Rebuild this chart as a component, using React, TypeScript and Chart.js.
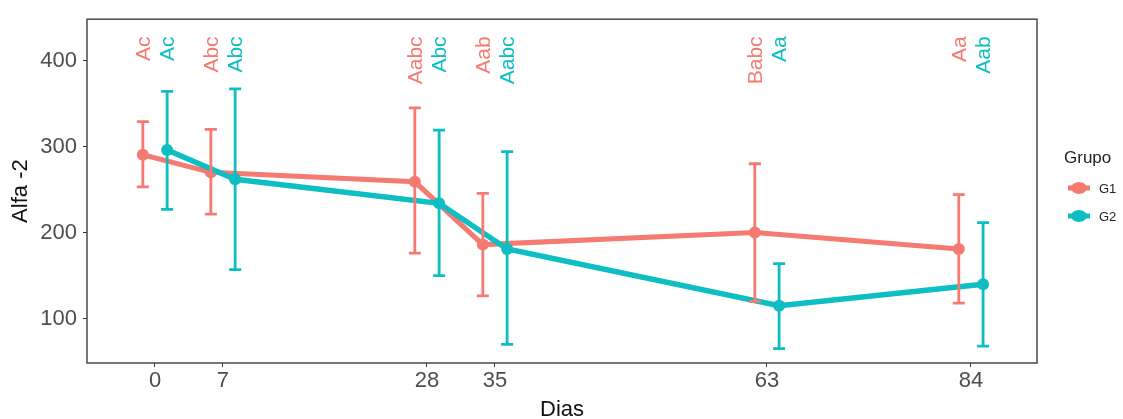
import React, { useEffect, useRef } from "react";
import { Chart, registerables } from "chart.js";

Chart.register(...registerables);

const DAYS = [0, 7, 28, 35, 63, 84];
const X_TICKS = [0, 7, 28, 35, 63, 84];
const Y_TICKS = [100, 200, 300, 400];
const DODGE = 1.25;

const G1_MEAN = [290.5, 270, 259, 186, 200, 181];
const G1_UPPER = [329, 320, 345, 245.5, 280, 244];
const G1_LOWER = [253, 221.5, 176, 126.5, 120, 118];
const G1_LABELS = ["Ac", "Abc", "Aabc", "Aab", "Babc", "Aa"];

const G2_MEAN = [296, 262, 234, 181, 115, 140];
const G2_UPPER = [364, 367, 319, 294, 164, 211.5];
const G2_LOWER = [227, 157, 150, 70, 65, 68];
const G2_LABELS = ["Ac", "Abc", "Abc", "Aabc", "Aa", "Aab"];

const GROUPS = ["G1", "G2"];
const COLORS = ["#F47A72", "#0DBEC2"];
const LABEL_Y = 428;

const FONT = "'Liberation Sans', Arial, Helvetica, sans-serif";

const series = [
  { mean: G1_MEAN, upper: G1_UPPER, lower: G1_LOWER, labels: G1_LABELS, offset: -DODGE, width: 5 },
  { mean: G2_MEAN, upper: G2_UPPER, lower: G2_LOWER, labels: G2_LABELS, offset: DODGE, width: 5.5 },
];

const overlayPlugin = {
  id: "overlay",
  afterDatasetsDraw(chart: any) {
    const { ctx, chartArea, scales } = chart;
    const xs = scales.x;
    const ys = scales.y;
    ctx.save();
    series.forEach((s, gi) => {
      ctx.strokeStyle = COLORS[gi];
      ctx.lineWidth = 2.8;
      DAYS.forEach((d, i) => {
        const px = xs.getPixelForValue(d + s.offset);
        const pt = ys.getPixelForValue(s.upper[i]);
        const pb = ys.getPixelForValue(s.lower[i]);
        const cap = 6;
        ctx.beginPath();
        ctx.moveTo(px, pt);
        ctx.lineTo(px, pb);
        ctx.moveTo(px - cap, pt);
        ctx.lineTo(px + cap, pt);
        ctx.moveTo(px - cap, pb);
        ctx.lineTo(px + cap, pb);
        ctx.stroke();
      });
    });
    series.forEach((s, gi) => {
      ctx.fillStyle = COLORS[gi];
      ctx.font = `21px ${FONT}`;
      ctx.textAlign = "right";
      ctx.textBaseline = "middle";
      DAYS.forEach((d, i) => {
        const px = xs.getPixelForValue(d + s.offset);
        const py = ys.getPixelForValue(LABEL_Y);
        ctx.save();
        ctx.translate(px + 1, py);
        ctx.rotate(-Math.PI / 2);
        ctx.fillText(s.labels[i], 0, 0);
        ctx.restore();
      });
    });
    ctx.strokeStyle = "#4a4a4a";
    ctx.lineWidth = 1.5;
    ctx.strokeRect(chartArea.left, chartArea.top, chartArea.right - chartArea.left, chartArea.bottom - chartArea.top);
    ctx.restore();
  },
  afterDraw(chart: any) {
    const { ctx, chartArea } = chart;
    ctx.save();
    ctx.fillStyle = "#111";
    ctx.font = `22px ${FONT}`;
    ctx.textAlign = "center";
    ctx.textBaseline = "middle";
    ctx.fillText("Dias", (chartArea.left + chartArea.right) / 2, 410);
    ctx.save();
    ctx.translate(21, (chartArea.top + chartArea.bottom) / 2);
    ctx.rotate(-Math.PI / 2);
    ctx.fillText("Alfa -2", 0, 0);
    ctx.restore();
    ctx.textAlign = "left";
    ctx.font = `17px ${FONT}`;
    ctx.fillStyle = "#222";
    ctx.fillText("Grupo", 1064, 158);
    GROUPS.forEach((g, i) => {
      const cy = 188 + i * 28;
      ctx.strokeStyle = COLORS[i];
      ctx.fillStyle = COLORS[i];
      ctx.lineWidth = 5;
      ctx.beginPath();
      ctx.moveTo(1068, cy);
      ctx.lineTo(1090, cy);
      ctx.stroke();
      ctx.beginPath();
      ctx.ellipse(1079, cy, 8, 6, 0, 0, Math.PI * 2);
      ctx.fill();
      ctx.fillStyle = "#222";
      ctx.font = `13px ${FONT}`;
      ctx.fillText(g, 1099, cy + 1);
    });
    ctx.restore();
  },
};

export default function App() {
  const ref = useRef<HTMLCanvasElement | null>(null);
  useEffect(() => {
    if (!ref.current) return;
    const datasets = series.map((s, gi) => ({
      label: GROUPS[gi],
      data: DAYS.map((d, i) => ({ x: d + s.offset, y: s.mean[i] })),
      borderColor: COLORS[gi],
      backgroundColor: COLORS[gi],
      borderWidth: s.width,
      pointRadius: 6,
      pointBorderWidth: 0,
      tension: 0,
      order: gi === 0 ? 1 : 0,
    }));
    const chart = new Chart(ref.current, {
      type: "line",
      data: { datasets },
      options: {
        animation: false,
        responsive: false,
        maintainAspectRatio: false,
        layout: { padding: { top: 14, right: 86, left: 0, bottom: 0 } },
        plugins: { legend: { display: false }, tooltip: { enabled: false } },
        scales: {
          x: {
            type: "linear",
            min: -7,
            max: 90.8,
            afterBuildTicks: (s: any) => {
              s.ticks = X_TICKS.map((v) => ({ value: v }));
            },
            afterFit: (s: any) => {
              s.height = 56;
            },
            ticks: {
              color: "#4D4D4D",
              font: { size: 22, family: FONT },
              padding: 1,
              autoSkip: false,
              maxRotation: 0,
              callback: (v: any) => String(v),
            },
            grid: { drawOnChartArea: false, drawTicks: true, tickLength: 4, color: "#333", lineWidth: 1 },
            border: { display: false },
          },
          y: {
            type: "linear",
            min: 48.4,
            max: 448,
            afterBuildTicks: (s: any) => {
              s.ticks = Y_TICKS.map((v) => ({ value: v }));
            },
            afterFit: (s: any) => {
              s.width = 87;
            },
            ticks: {
              color: "#4D4D4D",
              font: { size: 22, family: FONT },
              padding: 6,
              callback: (v: any) => String(v),
            },
            grid: { drawOnChartArea: false, drawTicks: true, tickLength: 4, color: "#333", lineWidth: 1 },
            border: { display: false },
          },
        },
      },
      plugins: [overlayPlugin],
    });
    return () => chart.destroy();
  }, []);
  return (
    <div style={{ position: "fixed", left: 0, top: 0, width: 1123, height: 419, background: "#fff" }}>
      <canvas ref={ref} width={1123} height={419} style={{ width: 1123, height: 419, display: "block" }} />
    </div>
  );
}
